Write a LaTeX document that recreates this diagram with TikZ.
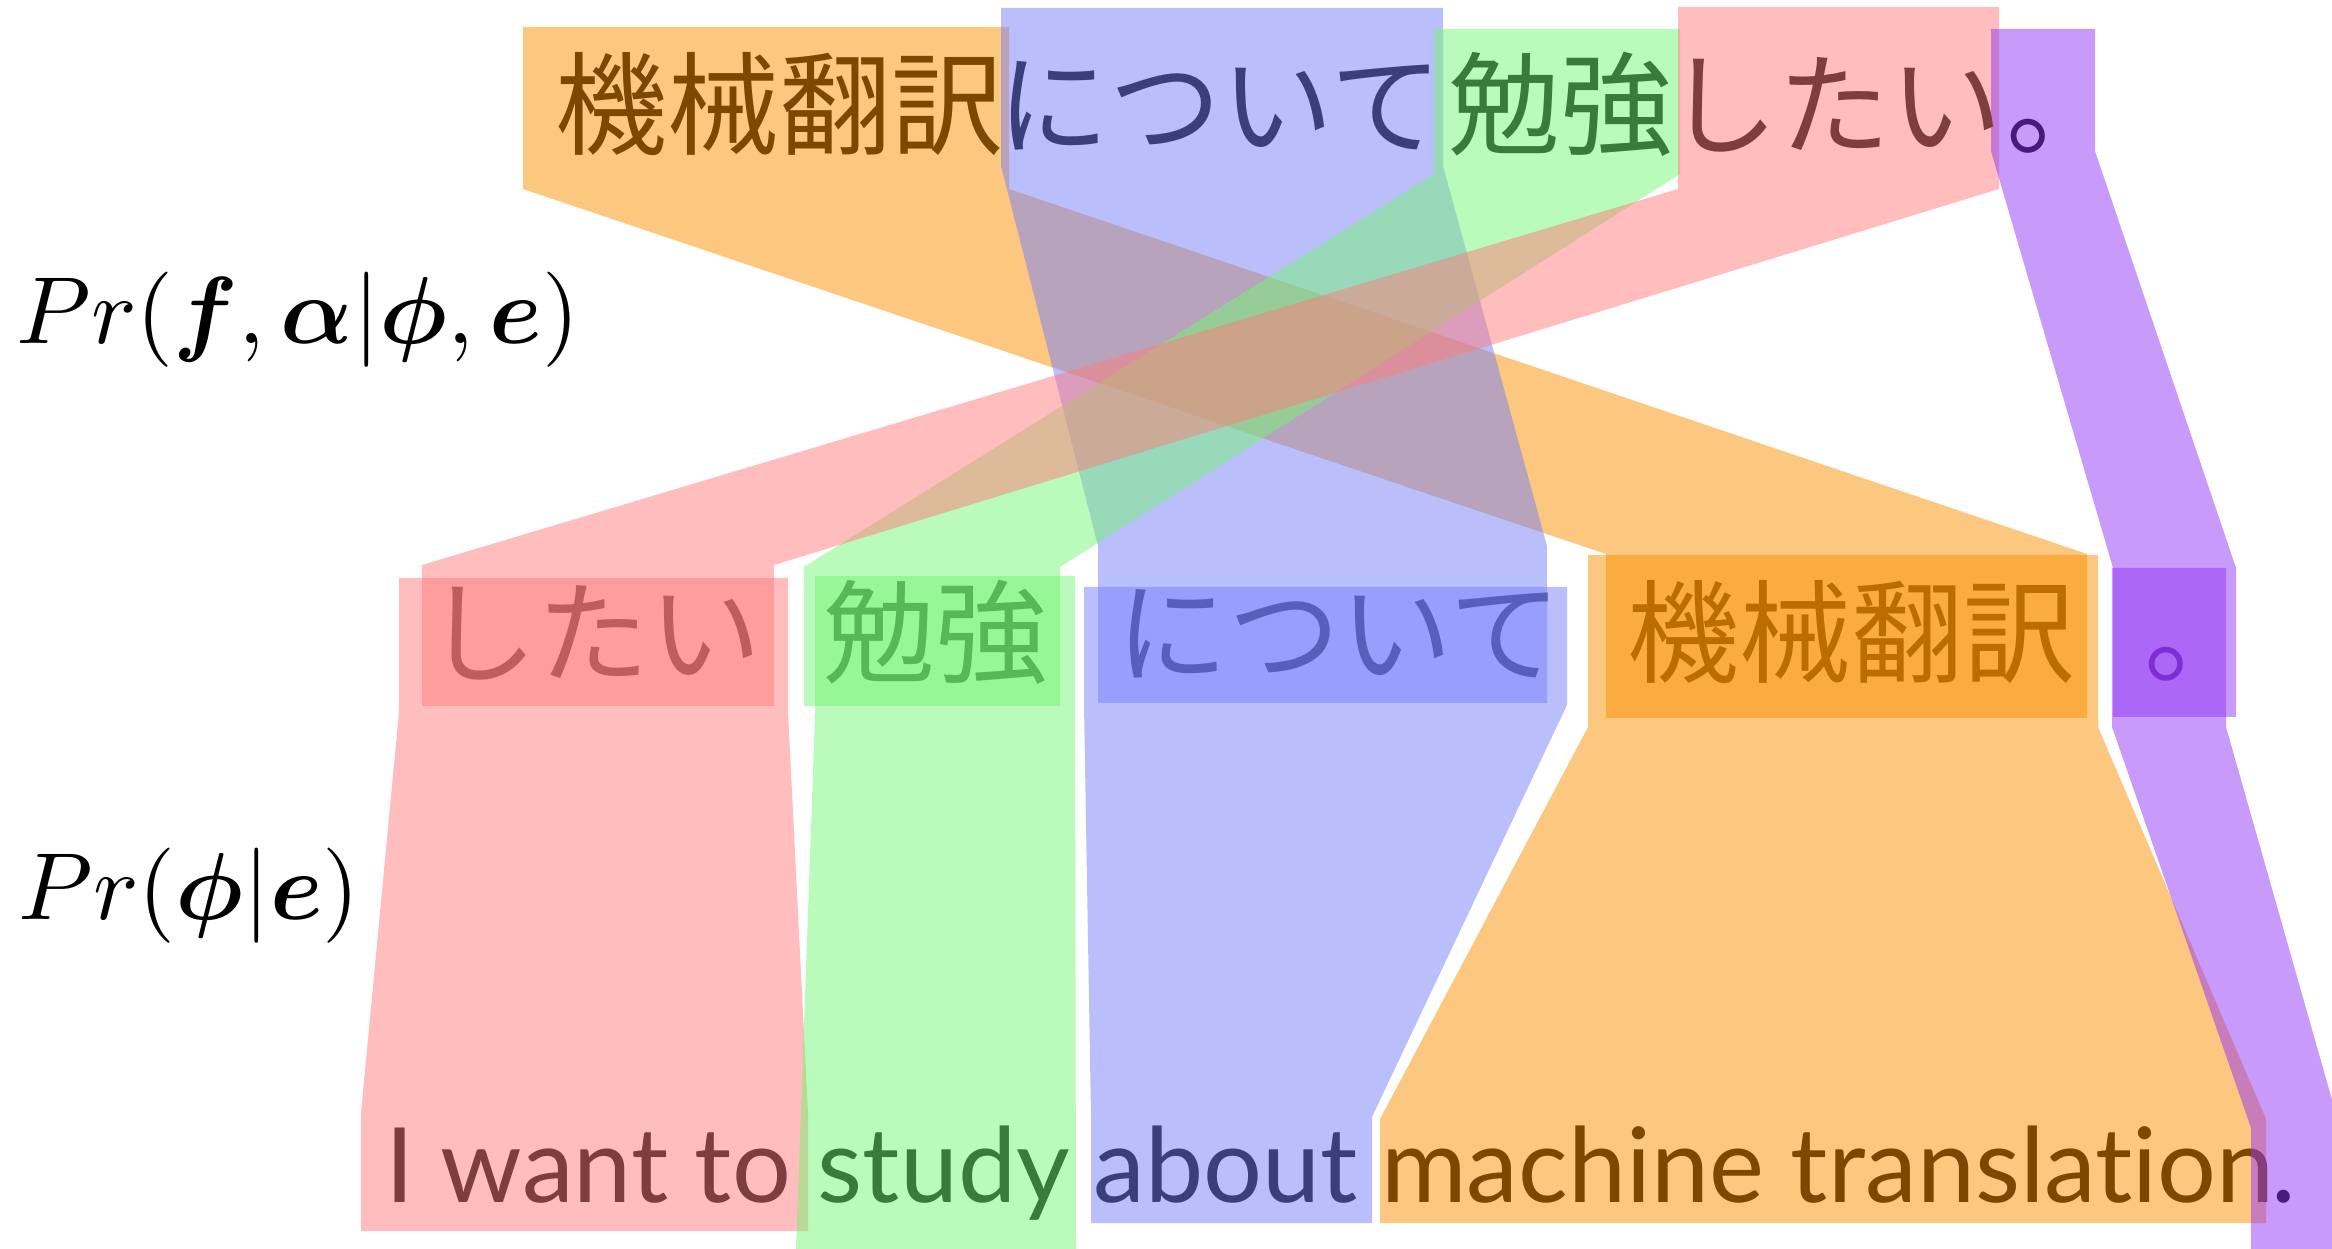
\documentclass[tikz,border=0pt]{standalone}
\usepackage{amsmath}
\usepackage{fontspec}
\newfontfamily\jaFont{Noto Sans CJK JP}
\newfontfamily\enFont[Ligatures={NoCommon}]{Lato}
\definecolor{bandRed}{RGB}{255,123,123}
\definecolor{bandGreen}{RGB}{117,245,117}
\definecolor{bandBlue}{RGB}{117,127,249}
\definecolor{bandOrange}{RGB}{249,145,1}
\definecolor{bandPurple}{RGB}{145,53,245}

\begin{document}
\begin{tikzpicture}[x=0.25pt,y=-0.25pt,
    band/.style={fill=#1,fill opacity=0.5},
    topWord/.style={font=\jaFont\fontsize{28}{28}\selectfont,text=#1!50!black,anchor=base,inner sep=0pt},
    midWord/.style={font=\jaFont\fontsize{28}{28}\selectfont,text=#1!75!black,anchor=base,inner sep=0pt},
    enWord/.style={font=\enFont\fontsize{26}{26}\selectfont,text=#1!50!black,anchor=base,inner sep=0pt},
    probLabel/.style={scale=2.38,anchor=base west,inner sep=0pt}]

      \clip (0,0) rectangle (2332,1249);

      % draw the bands from the sentence to the reordered phrases
      \foreach \col/\xa/\xb/\ya/\yb/\xc/\xd/\yc/\yd in {
        bandOrange/523/1009/27/189/1606/2087/554/718,
        bandBlue/1001/1443/8/166/1098/1547/546/703,
        bandGreen/1434/1680/29/174/804/1060/567/706,
        bandRed/1678/1999/7/189/422/774/565/706,
        bandPurple/1991/2095/29/151/2113/2236/568/717}
      \fill[band=\col] (\xa,\ya) -- (\xb,\ya) -- (\xb,\yb) -- (\xd,\yc) -- (\xd,\yd)
        -- (\xc,\yd) -- (\xc,\yc) -- (\xa,\yb) -- cycle;

      % draw the bands from the phrases to the english words
      \foreach \col/\xa/\xb/\ya/\yb/\xc/\xd/\yc/\yd in {
        bandRed/399/788/578/712/361/808/1113/1231,
        bandGreen/815/1075/576/716/796/1076/1249/1260,
        bandBlue/1084/1567/587/705/1091/1372/1117/1223,
        bandOrange/1588/2098/555/727/1380/2266/1119/1223}
      \fill[band=\col] (\xa,\ya) -- (\xb,\ya) -- (\xb,\yb) -- (\xd,\yc) -- (\xd,\yd)
        -- (\xc,\yd) -- (\xc,\yc) -- (\xa,\yb) -- cycle;

      % label the sentence
      \foreach \w/\x/\col/\name in {機械翻訳/779/bandOrange/topKikai,
        について/1220/bandBlue/topNitsuite, 勉強/1560/bandGreen/topBenkyo,
        したい/1834/bandRed/topShitai, 。/2062/bandPurple/topMaru}
      \node[topWord=\col] (\name) at (\x,147) {\w};

      % label the phrases
      \foreach \w/\x/\col/\name in {したい/593/bandRed/midShitai,
        勉強/935/bandGreen/midBenkyo, について/1339/bandBlue/midNitsuite,
        機械翻訳/1851/bandOrange/midKikai, 。/2200/bandPurple/midMaru}
      \node[midWord=\col] (\name) at (\x,674) {\w};

      % label the english words
      \foreach \w/\x/\col/\name in {I want to/588/bandRed/enWant,
        study/944/bandGreen/enStudy, about/1226/bandBlue/enAbout,
        machine translation/1828/bandOrange/enTrans}
      \node[enWord=\col] (\name) at (\x,1202) {\w};

      \fill[band=bandPurple] (2112,568) -- (2226,568) -- (2226,727) -- (2340,1128) -- (2340,1260)
        -- (2251,1260) -- (2251,1128) -- (2112,727) -- cycle;
      \node[enWord=bandPurple] (enDot) at (2284,1202) {.};

      % the two probabilities
      \node[probLabel] (probJoint) at (15,344)
        {$Pr(\boldsymbol{f},\boldsymbol{\alpha}|\boldsymbol{\phi},\boldsymbol{e})$};
      \node[probLabel] (probPhrase) at (17,919) {$Pr(\boldsymbol{\phi}|\boldsymbol{e})$};

    \end{tikzpicture}
\end{document}
